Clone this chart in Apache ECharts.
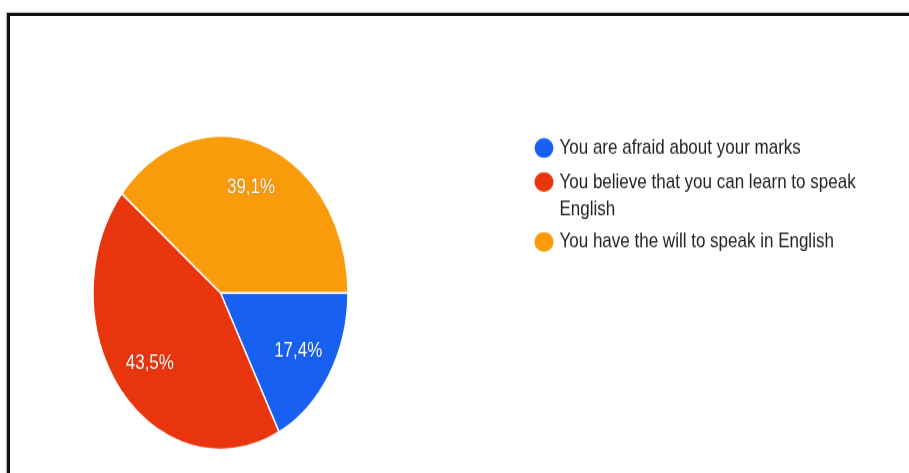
<!DOCTYPE html>
<html>
<head>
<meta charset="utf-8">
<script src="https://cdn.jsdelivr.net/npm/echarts@6/dist/echarts.min.js"></script>
<style>
  html, body { margin: 0; padding: 0; background: #fff; }
  #page { position: relative; width: 909px; height: 473px; overflow: hidden; background: #fff; }
  #frame {
    position: absolute; left: 7px; top: 13px; width: 920px; height: 480px;
    border-left: 3px solid #111; border-top: 3px solid #111;
    box-shadow: -1px -1px 1px rgba(0,0,0,0.25);
  }
  /* the chart is drawn on a shorter canvas and stretched vertically */
  #chart {
    position: absolute; left: 0; top: 0; width: 909px; height: 385px;
    transform: scaleY(1.23); transform-origin: 0 0;
  }
</style>
</head>
<body>
<div id="page">
  <div id="frame"></div>
  <div id="chart"></div>
</div>
<script>
// Answers and their share of responses (percent)
const categories = [
  'You are afraid about your marks',
  'You believe that you can learn to speak English',
  'You have the will to speak in English'
];
const shares = [17.4, 43.5, 39.1];
const colors = ['#1760f2', '#e8350d', '#f99b0a'];

const pieData = categories.map((name, i) => ({
  name: name,
  value: shares[i],
  itemStyle: { color: colors[i] }
}));

const center = [220.5, 238];
const fmt = p => p.value.toFixed(1).replace('.', ',') + '%';
// round legend marker that fills the whole item box
const dotIcon = 'path://M50,0A50,50,0,1,1,50,100A50,50,0,1,1,50,0Z';
const FONT = 'Arial, "Liberation Sans", sans-serif';

// long answers wrap their last word onto a second line; the first line is
// given a taller box so it lines up with the marker
const wrapName = n => {
  if (n.length < 40) return n;
  const k = n.lastIndexOf(' ');
  return '{first|' + n.slice(0, k) + '}\n{rest|' + n.slice(k + 1) + '}';
};

// one legend block per answer
const legendTops = [104.3, 109.9, 180.7];
const legends = categories.map((name, i) => ({
  orient: 'vertical',
  left: 527.5,
  top: legendTops[i],
  icon: dotIcon,
  symbolKeepAspect: false,
  itemWidth: 21,
  itemHeight: 18,
  formatter: wrapName,
  textStyle: {
    fontFamily: FONT,
    fontSize: 17,
    color: '#222',
    lineHeight: 22,
    rich: {
      first: { fontFamily: FONT, fontSize: 17, color: '#222', lineHeight: 44, height: 22, verticalAlign: 'bottom' },
      rest: { fontFamily: FONT, fontSize: 17, color: '#222', lineHeight: 22 }
    }
  },
  data: [{ name: name, itemStyle: { color: colors[i] } }]
}));

const chart = echarts.init(document.getElementById('chart'), null, { renderer: 'canvas' });
chart.setOption({
  animation: false,
  backgroundColor: 'transparent',
  legend: legends,
  series: [
    {
      type: 'pie',
      center: center,
      radius: 127.5,
      startAngle: 0,
      clockwise: true,
      label: { show: false },
      labelLine: { show: false },
      itemStyle: { borderColor: '#fff', borderWidth: 1.5 },
      emphasis: { disabled: true },
      data: pieData
    },
    {
      // transparent twin that only carries the percentage labels
      type: 'pie',
      center: center,
      radius: 176,
      startAngle: 0,
      clockwise: true,
      silent: true,
      legendHoverLink: false,
      itemStyle: { color: 'transparent', borderWidth: 0 },
      emphasis: { disabled: true },
      labelLine: { show: false },
      label: {
        show: true,
        position: 'inside',
        formatter: fmt,
        color: '#fff',
        fontFamily: FONT,
        fontSize: 17,
        textShadowColor: 'rgba(0,0,0,0.35)',
        textShadowBlur: 1.5
      },
      data: pieData.map(d => ({ name: d.name, value: d.value }))
    }
  ]
});
</script>
</body>
</html>
